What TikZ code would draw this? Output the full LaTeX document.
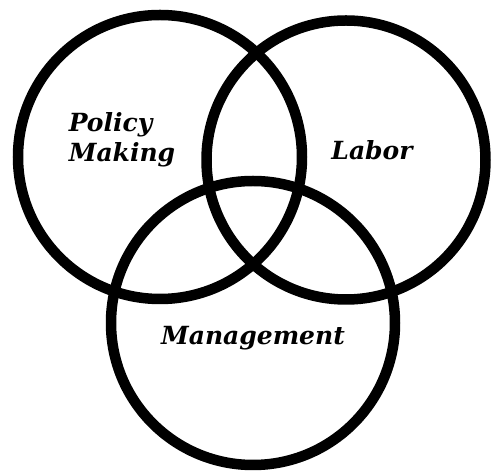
\documentclass[tikz,border=0pt]{standalone}
\usepackage{fontspec}
\setmainfont{DejaVu Serif}
\usepackage{tikz}
\usetikzlibrary{positioning}

\begin{document}
\begin{tikzpicture}[
    x=1pt, y=1pt,
    ring/.style={circle, draw=black, line width=10.5pt, inner sep=0pt},
    labelstyle/.style={font=\fontsize{25}{30}\selectfont\bfseries\itshape, align=left, inner sep=0pt}
]
    \useasboundingbox (0,0) rectangle (491,471);

    % Three overlapping rings
    \node (policyRing) [ring, minimum size=284pt] at (160,314) {};
    \node (laborRing) [ring, minimum size=279pt] at (346,311) {};
    \node (mgmtRing) [ring, minimum size=284pt] at (253,148) {};

    % Labels
    \node (policyText) [labelstyle] at (122,331) {Policy\\Making};
    \node (laborText) [labelstyle] at (372,321) {Labor};
    \node (mgmtText) [labelstyle] at (253,133) {Management};

\end{tikzpicture}
\end{document}
